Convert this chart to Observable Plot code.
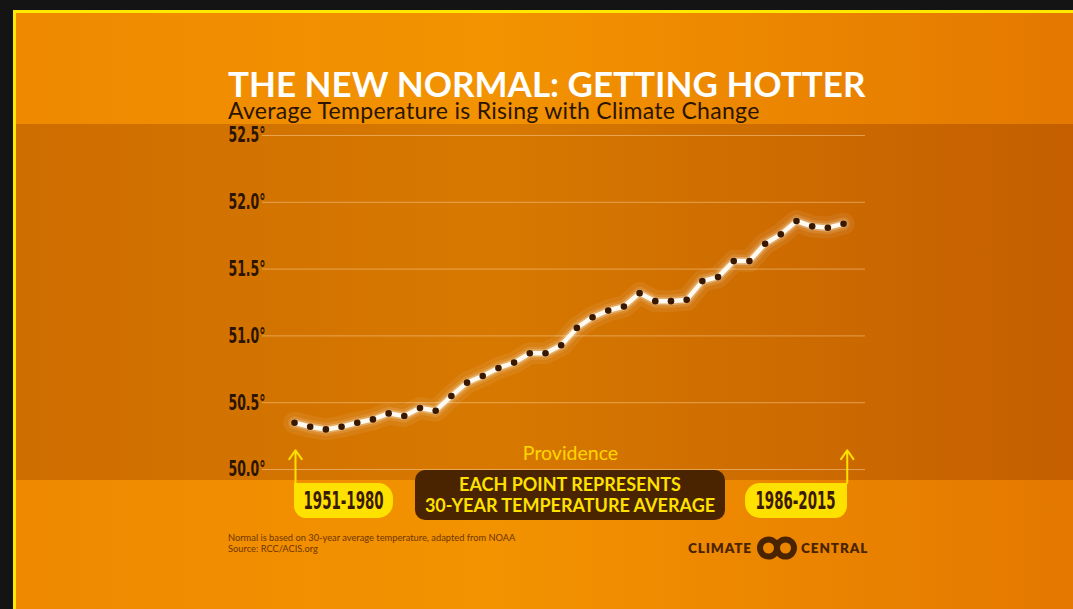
<!DOCTYPE html>
<html>
<head>
<meta charset="utf-8">
<script src="https://cdn.jsdelivr.net/npm/d3@7"></script>
<script src="https://cdn.jsdelivr.net/npm/@observablehq/plot@0.6"></script>
<style>
  html, body { margin: 0; padding: 0; width: 1073px; height: 609px; overflow: hidden; background: #141414; }
  #frame {
    position: absolute; left: 13px; top: 10px; width: 1057px; height: 596px;
    border-left: 3px solid #ffe900; border-top: 3px solid #ffe900;
    background: linear-gradient(90deg, #ee8900 0%, #f39300 45%, #e47800 100%);
    overflow: hidden;
  }
  #band {
    position: absolute; left: 0; top: 111px; width: 1057px; height: 356px;
    background: linear-gradient(90deg, rgba(150,60,0,0.36) 0%, rgba(150,60,0,0.30) 45%, rgba(140,50,0,0.36) 100%);
  }
  #chart { position: absolute; left: 0; top: 0; }
  .title { position: absolute; left: 212px; top: 55.2px; font-family: Lato, sans-serif; font-weight: 700;
    font-size: 35px; line-height: 30px; color: #ffffff; white-space: nowrap; }
  .subtitle { position: absolute; left: 212px; top: 86.2px; font-family: Lato, sans-serif; font-weight: 400;
    font-size: 23px; line-height: 23px; letter-spacing: 0.3px; color: #2b1400; white-space: nowrap; }
  .datebox { position: absolute; top: 470px; height: 35px; background: #ffe100; color: #3a1a00;
    font-family: "DejaVu Sans Condensed", "DejaVu Sans", sans-serif; font-weight: 700; font-size: 24px;
    display: flex; align-items: center; justify-content: center; white-space: nowrap; overflow: visible; }
  .datebox span { display: inline-block; transform: scaleX(0.62); white-space: nowrap; }
  #boxL { left: 278px; width: 99px; border-radius: 0 15px 15px 12px; }
  #boxR { left: 729px; width: 102px; border-radius: 15px 0 12px 15px; }
  #note { position: absolute; left: 399px; top: 457px; width: 310px; height: 50px; background: #4a2300;
    border-radius: 10px; color: #ffe100; font-family: Lato, sans-serif; font-weight: 700; font-size: 18px;
    line-height: 21px; text-align: center; display: flex; flex-direction: column; justify-content: center; white-space: nowrap; }
  #foot { position: absolute; left: 212px; top: 520px; font-family: Lato, sans-serif; font-size: 9.3px;
    line-height: 10.5px; color: #6e3500; white-space: nowrap; }
  #brand { position: absolute; left: 672px; top: 523px; height: 24px; display: flex; align-items: center;
    font-family: Lato, sans-serif; font-weight: 800; font-size: 13.5px; letter-spacing: 0.9px; color: #4a2300; white-space: nowrap; }
  #brand svg { margin: 0 3px 0 4px; }
</style>
</head>
<body>
<div id="frame">
  <div id="band"></div>
  <div class="title">THE NEW NORMAL: GETTING HOTTER</div>
  <div class="subtitle">Average Temperature is Rising with Climate Change</div>
  <div id="chart"></div>
  <div class="datebox" id="boxL"><span>1951-1980</span></div>
  <div class="datebox" id="boxR"><span>1986-2015</span></div>
  <div id="note"><div>EACH POINT REPRESENTS</div><div>30-YEAR TEMPERATURE AVERAGE</div></div>
  <div id="foot">Normal is based on 30-year average temperature, adapted from NOAA<br>Source: RCC/ACIS.org</div>
  <div id="brand">CLIMATE<svg width="42" height="24" viewBox="0 0 42 24"><circle cx="12.5" cy="12" r="8.5" fill="none" stroke="#4a2300" stroke-width="6"/><circle cx="29.5" cy="12" r="8.5" fill="none" stroke="#4a2300" stroke-width="6"/></svg>CENTRAL</div>
</div>
<script>
// 30-year normal periods, labelled by start year (1951-1980 ... 1986-2015)
const startYears = [1951,1952,1953,1954,1955,1956,1957,1958,1959,1960,1961,1962,1963,1964,1965,1966,1967,1968,
                    1969,1970,1971,1972,1973,1974,1975,1976,1977,1978,1979,1980,1981,1982,1983,1984,1985,1986];
const avgTemps = [50.35,50.32,50.30,50.32,50.35,50.375,50.42,50.40,50.46,50.44,50.55,50.65,50.70,50.76,50.80,50.87,50.87,50.93,
                  51.06,51.14,51.19,51.22,51.32,51.26,51.26,51.27,51.41,51.44,51.56,51.56,51.69,51.76,51.86,51.82,51.81,51.84];
const yTicks = [50.0, 50.5, 51.0, 51.5, 52.0, 52.5];
const yTickLabels = ["50.0°", "50.5°", "51.0°", "51.5°", "52.0°", "52.5°"];
const cityLabel = ["Providence"];
const periodEnds = [{year: 1951, dx: 1}, {year: 1986, dx: 3.7}];

const data = startYears.map((year, i) => ({year, temp: avgTemps[i]}));
const x = d => d.year, y = d => d.temp;

const plot = Plot.plot({
  width: 1057, height: 596,
  marginLeft: 246, marginRight: 208, marginTop: 122, marginBottom: 140,
  x: {domain: [1948.96, 1987.40], axis: null},
  y: {domain: [50, 52.5], axis: null},
  style: {background: "transparent", overflow: "visible"},
  marks: [
    Plot.ruleY(yTicks, {stroke: "#ffe2b0", strokeOpacity: 0.45, strokeWidth: 1}),
    Plot.text(yTicks, {y: d => d, text: (d, i) => yTickLabels[i], frameAnchor: "left", textAnchor: "start", dx: -34,
      fontSize: 21.5, fontWeight: 700, fill: "#2b1400",
      fontFamily: "'DejaVu Sans Condensed', 'DejaVu Sans', sans-serif"}),
    Plot.line(data, {x, y, stroke: "#ffffff", strokeWidth: 22, strokeOpacity: 0.07}),
    Plot.line(data, {x, y, stroke: "#ffffff", strokeWidth: 13, strokeOpacity: 0.12}),
    Plot.line(data, {x, y, stroke: "#fff4e0", strokeWidth: 8, strokeOpacity: 0.3}),
    Plot.line(data, {x, y, stroke: "#fffaf0", strokeWidth: 4.5}),
    Plot.dot(data, {x, y, r: 3.3, fill: "#3a1800"}),
    Plot.text(cityLabel, {frameAnchor: "bottom", text: d => d, dx: 6.5, dy: -16, lineAnchor: "middle",
      fontSize: 19.5, fill: "#ffd600", fontFamily: "Lato, sans-serif"}),
    ...periodEnds.map(p => Plot.arrow([p], {x1: "year", x2: "year", y1: () => 49.9, y2: () => 50.144, dx: p.dx,
      stroke: "#ffe100", strokeWidth: 2, headLength: 12, headAngle: 70}))
  ]
});
// condense the tick labels (first text layer) to the narrow face of the original
d3.select(plot).select('g[aria-label="text"]').selectAll("text")
  .attr("textLength", 37).attr("lengthAdjust", "spacingAndGlyphs");
document.getElementById("chart").appendChild(plot);
</script>
</body>
</html>
